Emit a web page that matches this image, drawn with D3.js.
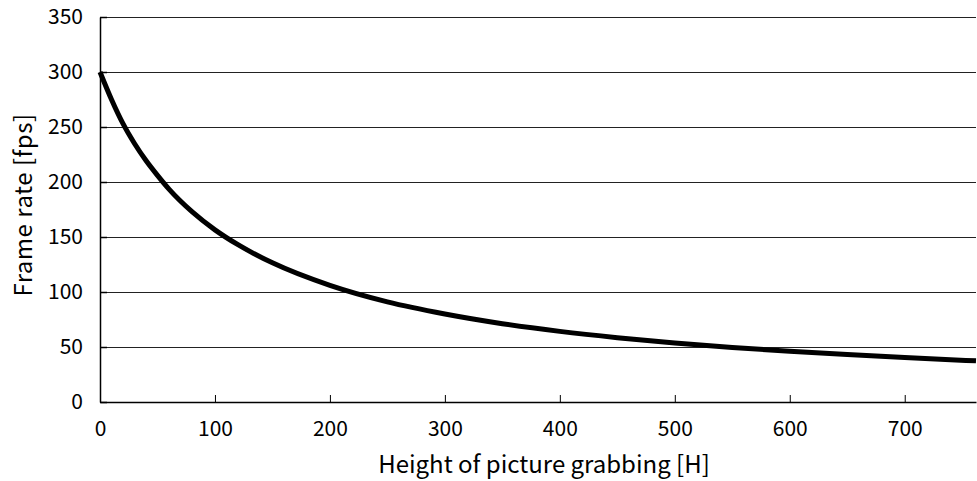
<!DOCTYPE html>
<html>
<head>
<meta charset="utf-8">
<script src="https://cdn.jsdelivr.net/npm/d3@7"></script>
<style>
  html, body { margin: 0; padding: 0; background: #fff; }
  svg { display: block; }
  text { font-family: "Noto Sans CJK JP", "DejaVu Sans", sans-serif; fill: #000; }
</style>
</head>
<body>
<svg id="chart" width="977" height="481"></svg>
<script>
// Values
const heights = [0, 10, 20, 30, 40, 50, 60, 80, 100, 120, 150, 200, 250, 300,
  350, 400, 450, 500, 550, 600, 650, 700, 762];
const frameRates = [300, 275, 253, 235, 219.5, 206, 193.5, 173, 156.5, 143, 126.5,
  106, 91, 80, 71.2, 64.2, 58.5, 53.7, 49.6, 46.1, 43.1, 40.4, 37.4];
const xTicks = [0, 100, 200, 300, 400, 500, 600, 700];
const yTicks = [0, 50, 100, 150, 200, 250, 300, 350];

const svg = d3.select('#chart');
const margin = {top: 17, right: 1, bottom: 79, left: 100};
const width = 977 - margin.left - margin.right;
const height = 481 - margin.top - margin.bottom;

const x = d3.scaleLinear().domain([0, 762]).range([0, width]);
const y = d3.scaleLinear().domain([0, 350]).range([height, 0]);

const g = svg.append('g').attr('transform', `translate(${margin.left},${margin.top})`);

// horizontal grid lines
g.selectAll('line.grid')
  .data(yTicks.filter(d => d > 0))
  .enter()
  .append('line')
  .attr('class', 'grid')
  .attr('x1', 0)
  .attr('x2', width)
  .attr('y1', d => Math.round(y(d)) + 0.5)
  .attr('y2', d => Math.round(y(d)) + 0.5)
  .attr('stroke', '#222')
  .attr('stroke-width', 1);

// y axis, ticks pointing inward
const yAxis = g.append('g')
  .call(d3.axisLeft(y).tickValues(yTicks).tickSizeInner(-7).tickSizeOuter(0).tickPadding(17));
yAxis.select('.domain').attr('stroke', '#000').attr('stroke-width', 1.5);
yAxis.selectAll('.tick line').attr('stroke', '#000').attr('stroke-width', 1.5);
yAxis.selectAll('.tick text').style('font-size', '21px').attr('fill', '#000');

// x axis, ticks pointing inward
const xAxis = g.append('g')
  .attr('transform', `translate(0,${height})`)
  .call(d3.axisBottom(x).tickValues(xTicks).tickSizeInner(-7).tickSizeOuter(0).tickPadding(19));
xAxis.select('.domain').attr('stroke', '#000').attr('stroke-width', 1.5);
xAxis.selectAll('.tick line').attr('stroke', '#000').attr('stroke-width', 1);
xAxis.selectAll('.tick text').style('font-size', '21px').attr('fill', '#000');

// the curve
const line = d3.line()
  .x((d, i) => x(heights[i]))
  .y(d => y(d))
  .curve(d3.curveMonotoneX);

g.append('path')
  .datum(frameRates)
  .attr('d', line)
  .attr('fill', 'none')
  .attr('stroke', '#000')
  .attr('stroke-width', 5)
  .attr('stroke-linejoin', 'round');

// axis titles
svg.append('text')
  .attr('x', 544)
  .attr('y', 473)
  .attr('text-anchor', 'middle')
  .attr('fill', '#000')
  .style('font-size', '24px')
  .text('Height of picture grabbing [H]');

svg.append('text')
  .attr('transform', `translate(32,205) rotate(-90)`)
  .attr('text-anchor', 'middle')
  .attr('fill', '#000')
  .style('font-size', '24px')
  .style('letter-spacing', '0.5px')
  .text('Frame rate [fps]');
</script>
</body>
</html>
